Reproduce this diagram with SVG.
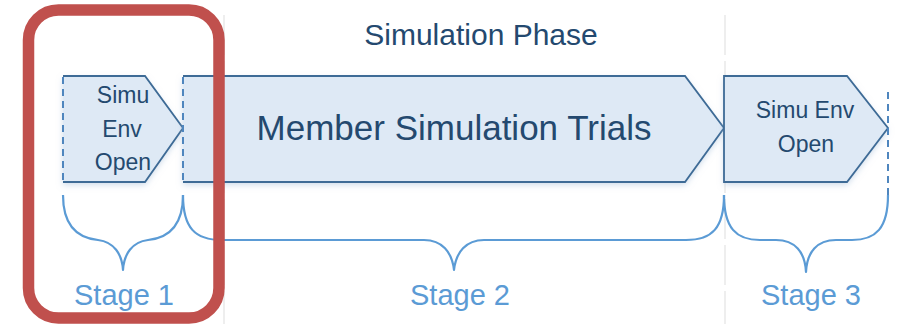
<svg xmlns="http://www.w3.org/2000/svg" width="897" height="324" viewBox="0 0 897 324">
<defs>
<filter id="sh" x="-10%" y="-10%" width="120%" height="130%">
<feDropShadow dx="0" dy="3" stdDeviation="3" flood-color="#9DB7D5" flood-opacity="0.5"/>
</filter>
<style>
.sep{stroke:#EEEEEE;stroke-width:2;fill:none;stroke-dasharray:40 6}
.fill{fill:#DEE9F5;stroke:none}
.edge{fill:none;stroke:#3E6B96;stroke-width:1.8;stroke-linejoin:miter}
.dash{fill:none;stroke:#4F86BE;stroke-width:2;stroke-dasharray:7 5}
.brace{fill:none;stroke:#5B9BD5;stroke-width:2.2;stroke-linejoin:round}
.t{font-family:"Liberation Sans",Arial,sans-serif;fill:#24496F;text-anchor:middle}
.st{font-family:"Liberation Sans",Arial,sans-serif;fill:#5B9BD5;text-anchor:middle;font-size:29px}
</style>
</defs>
<rect width="897" height="324" fill="#FFFFFF"/>
<g id="separators">
<line class="sep" x1="224" y1="15" x2="224" y2="324"/>
<line class="sep" x1="725" y1="15" x2="725" y2="324"/>
</g>
<text id="title" class="t" x="481" y="45" font-size="30">Simulation Phase</text>
<g id="stage1-shape">
<polygon class="fill" filter="url(#sh)" points="63,76 145,76 183,128 145,182 63,182"/>
<polyline class="edge" points="63,76 145,76 183,128 145,182 63,182"/>
<line class="dash" x1="63" y1="77" x2="63" y2="181"/>
<text class="t" font-size="23"><tspan x="123" y="103">Simu</tspan><tspan x="122" y="137">Env</tspan><tspan x="123" y="170">Open</tspan></text>
</g>
<g id="stage2-shape">
<polygon class="fill" filter="url(#sh)" points="183,76 685,76 724,128 685,182 183,182"/>
<polyline class="edge" points="183,76 685,76 724,128 685,182 183,182"/>
<line class="dash" x1="183" y1="77" x2="183" y2="181"/>
<text class="t" x="454" y="140" font-size="35">Member Simulation Trials</text>
</g>
<g id="stage3-shape">
<polygon class="fill" filter="url(#sh)" points="724,76 847,76 888,128 847,182 724,182"/>
<path class="edge" d="M724,182 L724,76 L847,76 L888,128 L847,182 Z"/>
<line class="dash" x1="888" y1="92" x2="888" y2="195"/>
<text class="t" font-size="23"><tspan x="805" y="118">Simu Env</tspan><tspan x="806" y="152">Open</tspan></text>
</g>
<g id="connectors">
<path class="brace" d="M63,195 C63,226 78,238 98,240 C114,242 122,254 123,270 C124,254 132,242 148,240 C168,238 183,226 183,195"/>
<path class="brace" d="M183,195 C183,228 195,240 222,240 L424,240 C442,240 452,252 454,270 C456,252 466,240 484,240 L686,240 C712,240 724,228 724,195"/>
<path class="brace" d="M724,195 C724,228 736,240 760,240 L776,240 C795,240 805,252 806,272 C807,252 817,240 836,240 L852,240 C876,240 888,228 888,195"/>
</g>
<g id="labels">
<text class="st" x="124" y="305">Stage 1</text>
<text class="st" x="460" y="305">Stage 2</text>
<text class="st" x="811" y="305">Stage 3</text>
</g>
<g id="highlight">
<rect x="28.5" y="10" width="190.5" height="308" rx="30" ry="30" fill="none" stroke="#C0504D" stroke-width="11.5"/>
</g>
</svg>
